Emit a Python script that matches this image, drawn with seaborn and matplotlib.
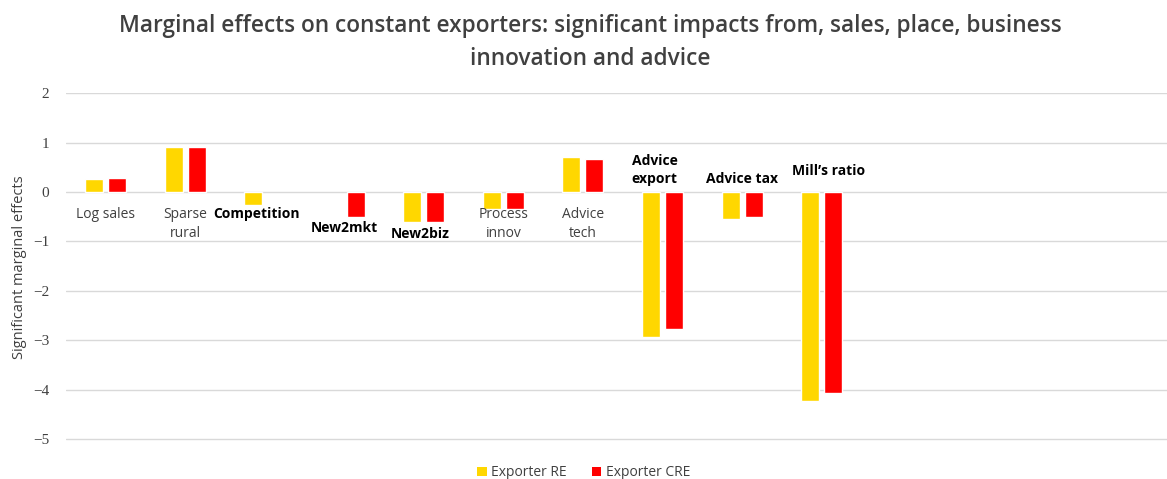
import matplotlib
matplotlib.use("Agg")
import matplotlib.pyplot as plt
from matplotlib.patches import Patch
import seaborn as sns
import numpy as np
import pandas as pd

# data
categories = ['Log sales', 'Sparse rural', 'Competition', 'New2mkt', 'New2biz',
              'Process innov', 'Advice tech', 'Advice export', 'Advice tax', "Mill\u2019s ratio"]
exporter_re = [0.26, 0.91, -0.27, np.nan, -0.61, -0.35, 0.72, -2.94, -0.55, -4.24]
exporter_cre = [0.28, 0.92, np.nan, -0.50, -0.61, -0.35, 0.67, -2.77, -0.50, -4.07]
series = ['Exporter RE', 'Exporter CRE']

df = pd.DataFrame({
    'category': categories * 2,
    'series': [series[0]] * len(categories) + [series[1]] * len(categories),
    'value': exporter_re + exporter_cre,
})

# category label text, where it sits (y in data units) and its style
label_text = ['Log sales', 'Sparse\nrural', 'Competition', 'New2mkt', 'New2biz',
              'Process\ninnov', 'Advice\ntech', 'Advice\nexport', 'Advice tax', "Mill\u2019s ratio"]
label_y = [-0.45, -0.65, -0.45, -0.73, -0.85, -0.65, -0.65, 0.44, 0.26, 0.42]
label_dx = [0, 0, -0.1, 0, -0.04, 0, 0, -0.1, 0, 0.09]
label_bold = [False, False, True, True, True, False, False, True, True, True]

colors = {'Exporter RE': '#FFD700', 'Exporter CRE': '#FF0000'}

sns.set_style('white')
plt.rcParams['font.family'] = ['Open Sans', 'DejaVu Sans']

fig = plt.figure(figsize=(11.67, 4.79), dpi=100)
ax = fig.add_axes([0.0563, 0.0794, 0.9437, 0.7257])

sns.barplot(data=df, x='category', y='value', hue='series', order=categories,
            hue_order=series, palette=colors, width=0.58, gap=0.22,
            saturation=1, ax=ax, legend=False)

ax.set_xlim(-0.5, 13.34)
ax.set_ylim(-5.04, 2)
ax.set_yticks(range(-5, 3))
ax.set_yticklabels(['\u22125', '\u22124', '\u22123', '\u22122', '\u22121', '0', '1', '2'],
                   family='Liberation Serif', fontsize=11, color='#404040')
ax.tick_params(axis='y', length=0, pad=12)
ax.set_xticks([])
ax.set_xlabel('')
ax.set_ylabel('Significant marginal effects', fontsize=10.5, color='#404040', labelpad=4)
ax.grid(axis='y', color='#d9d9d9', linewidth=1)
ax.set_axisbelow(True)
for s in ax.spines.values():
    s.set_visible(False)

for i, t in enumerate(label_text):
    if label_bold[i]:
        ax.text(i + label_dx[i], label_y[i], t, ha='center', va='center', fontsize=10,
                fontweight='bold', color='black', linespacing=1.35)
    else:
        ax.text(i + label_dx[i], label_y[i], t, ha='center', va='center', fontsize=10,
                color='#404040', linespacing=1.35)

fig.text(0.506, 0.945, 'Marginal effects on constant exporters: significant impacts from, sales, place, business',
         ha='center', va='center', fontsize=16.3, fontweight='semibold', color='#404040')
fig.text(0.506, 0.877, 'innovation and advice',
         ha='center', va='center', fontsize=16.3, fontweight='semibold', color='#404040')

handles = [Patch(facecolor=colors[s], edgecolor='none', label=s) for s in series]
fig.legend(handles=handles, loc='center', bbox_to_anchor=(0.5, 0.013), ncol=2, frameon=False,
           fontsize=10, handlelength=0.7, handleheight=0.7, handletextpad=0.3, columnspacing=1.8,
           labelcolor='#404040')

fig.savefig('out.png', dpi=100, facecolor='white')
